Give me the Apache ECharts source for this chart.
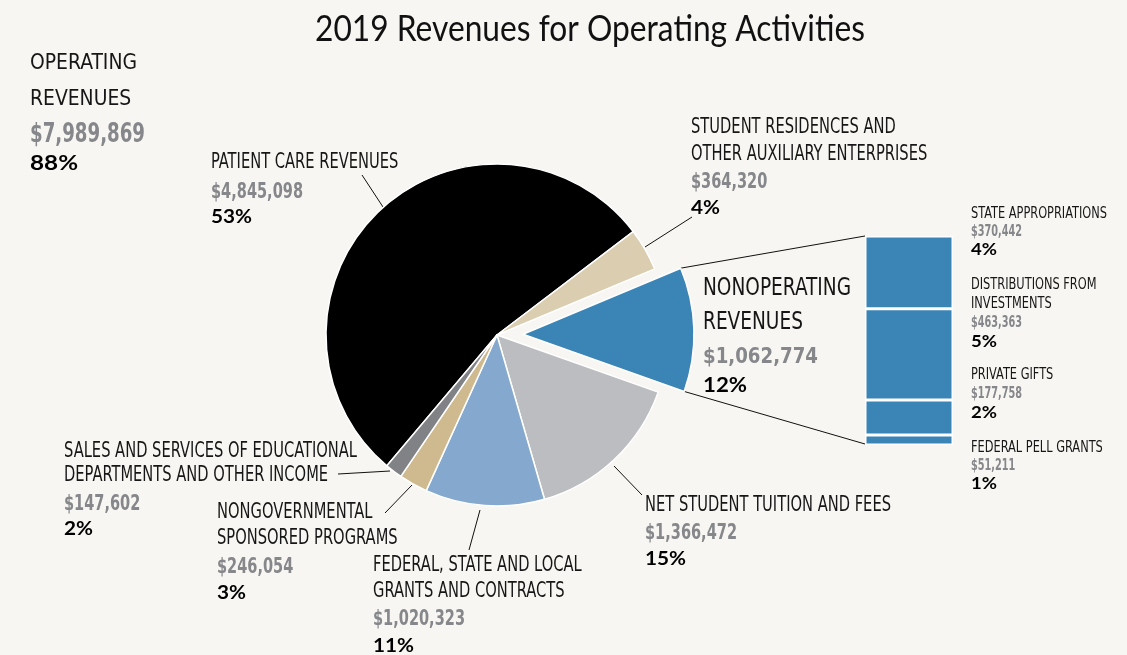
<!DOCTYPE html>
<html><head><meta charset="utf-8">
<script src="https://cdn.jsdelivr.net/npm/echarts@6/dist/echarts.min.js"></script>
<style>html,body{margin:0;padding:0;background:#f8f6f2;}#c{width:1127px;height:655px;}</style>
</head><body><div id="c"></div>
<script>
// ---------- data ----------
const chartTitle = '2019 Revenues for Operating Activities';
const sliceNames = ['Patient care revenues','Student residences and other auxiliary enterprises','Nonoperating revenues','Net student tuition and fees','Federal, state and local grants and contracts','Nongovernmental sponsored programs','Sales and services of educational departments and other income'];
const sliceLabelLines = [
  ['PATIENT CARE REVENUES'],
  ['STUDENT RESIDENCES AND','OTHER AUXILIARY ENTERPRISES'],
  ['NONOPERATING','REVENUES'],
  ['NET STUDENT TUITION AND FEES'],
  ['FEDERAL, STATE AND LOCAL','GRANTS AND CONTRACTS'],
  ['NONGOVERNMENTAL','SPONSORED PROGRAMS'],
  ['SALES AND SERVICES OF EDUCATIONAL','DEPARTMENTS AND OTHER INCOME']
];
const sliceValues = [4845098, 364320, 1062774, 1366472, 1020323, 246054, 147602];
const slicePercents = ['53%','4%','12%','15%','11%','3%','2%'];
const nonopIndex = 2;
const operatingLabelLines = ['OPERATING','REVENUES'];
const operatingPercent = '88%';
const nonopNames = ['State appropriations','Distributions from investments','Private gifts','Federal Pell grants'];
const nonopLabelLines = [['STATE APPROPRIATIONS'],['DISTRIBUTIONS FROM','INVESTMENTS'],['PRIVATE GIFTS'],['FEDERAL PELL GRANTS']];
const nonopValues = [370442, 463363, 177758, 51211];
const nonopPercents = ['4%','5%','2%','1%'];

// ---------- style ----------
const BG = '#f8f6f2';
const sliceColors = ['#000000','#dacdb0','#3b84b6','#bcbdc0','#85a9ce','#cfba8f','#808285'];
const barColor = '#3b84b6';
const FN = '"Liberation Sans Narrow","DejaVu Sans Condensed","Roboto Condensed","Arial Narrow",sans-serif';
const FP = 'Lato,"Open Sans",sans-serif';
const TXT = '#161616', GRAY = '#86878a';
const PIE_C = [497, 335], PIE_R = 171, START = 229.9, OFFSET = 26;
const BAR = {left: 865, top: 236, width: 88, height: 209};

const ctx = document.createElement('canvas').getContext('2d');
function measure(t, f){ ctx.font = f; return ctx.measureText(t).width; }
function mkStyle(weight, size, fam, ref, target, dy){
  const font = weight + ' ' + size + 'px ' + fam;
  return {font, sx: ref ? target / measure(ref, font) : 1, dy: dy || 0};
}
const ST = {
  main: mkStyle('normal', 20.5, FN, 'NET STUDENT TUITION AND FEES', 246, 2.5),
  mainVal: mkStyle('bold', 20.5, FN, '$4,845,098', 92, 2.5),
  mainPct: mkStyle('bold', 19.5, FP, '53%', 41, 1),
  small: mkStyle('normal', 15, FN, 'STATE APPROPRIATIONS', 136, 2),
  smallVal: mkStyle('bold', 15, FN, '$370,442', 51, 2),
  smallPct: mkStyle('bold', 17, FP, '4%', 26, 1),
  big: mkStyle('normal', 24.7, FN, 'NONOPERATING', 148, 3),
  bigVal: mkStyle('bold', 22, FN, '$1,062,774', 115, 2.5),
  bigPct: mkStyle('bold', 20, FP, '12%', 44, 1),
  op: mkStyle('normal', 22, FN, 'OPERATING', 107, 2.5),
  opVal: mkStyle('bold', 26, FN, '$7,989,869', 115, 3),
  opPct: mkStyle('bold', 21, FP, '88%', 48, 1)
};
const fmt = v => '$' + v.toLocaleString('en-US');

const graphics = [];
function txt(x, y, text, st, fill){
  graphics.push({type:'text', x, y: y + st.dy, scaleX: st.sx, silent:true,
    style:{text, font: st.font, fill, align:'left', verticalAlign:'middle'}});
}
function block(x, lineYs, lines, valY, value, pctY, pct, s){
  lines.forEach((l,i)=>txt(x, lineYs[i], l, ST[s], TXT));
  txt(x, valY, value, ST[s+'Val'], GRAY);
  txt(x, pctY, pct, ST[s+'Pct'], '#000');
}
function line(p1, p2){
  graphics.push({type:'line', silent:true, shape:{x1:p1[0],y1:p1[1],x2:p2[0],y2:p2[1]},
    style:{stroke:'#111', lineWidth:1}});
}

// label layout (positions)
const sliceLayout = [
  {x:211, ys:[160.5], v:190, p:216, s:'main'},
  {x:691, ys:[125.5,152.5], v:180, p:206.5, s:'main'},
  {x:703, ys:[286,320], v:355, p:385, s:'big'},
  {x:645, ys:[503.5], v:531, p:558, s:'main'},
  {x:373, ys:[563.5,589.5], v:617.5, p:644.5, s:'main'},
  {x:217, ys:[510.5,536.5], v:565, p:591.5, s:'main'},
  {x:64, ys:[449.5,473.5], v:502, p:528, s:'main'}
];
sliceLayout.forEach((L,i)=>block(L.x, L.ys, sliceLabelLines[i], L.v, fmt(sliceValues[i]), L.p, slicePercents[i], L.s));
const operatingTotal = sliceValues.reduce((a,b,i)=> i===nonopIndex ? a : a+b, 0);
block(30, [61,97], operatingLabelLines, 132, fmt(operatingTotal), 162, operatingPercent, 'op');

const nonopLayout = [
  {ys:[212.5], v:230.5, p:249},
  {ys:[283.5,302.5], v:321.5, p:340.5},
  {ys:[373.5], v:392.5, p:411.5},
  {ys:[446], v:464, p:483}
];
nonopLayout.forEach((L,i)=>block(971, L.ys, nonopLabelLines[i], L.v, fmt(nonopValues[i]), L.p, nonopPercents[i], 'small'));

// leader lines
line([362,175],[383,207]);
line([645,247],[692,217]);
line([614,466],[642,495]);
line([480,510],[469,550]);
line([412,485],[385,513]);
line([390,471],[338,474]);

// connector lines from exploded slice to the bar
const total = sliceValues.reduce((a,b)=>a+b,0);
const before = sliceValues.slice(0, nonopIndex).reduce((a,b)=>a+b,0);
const a0 = START - before/total*360;
const a1 = a0 - sliceValues[nonopIndex]/total*360;
const mid = (a0+a1)/2*Math.PI/180;
const rad = d => d*Math.PI/180;
const ox = PIE_C[0] + OFFSET*Math.cos(mid), oy = PIE_C[1] - OFFSET*Math.sin(mid);
line([ox + PIE_R*Math.cos(rad(a0)), oy - PIE_R*Math.sin(rad(a0))], [BAR.left, BAR.top]);
line([ox + PIE_R*Math.cos(rad(a1)), oy - PIE_R*Math.sin(rad(a1))], [BAR.left, BAR.top + BAR.height - 1]);

// title
const tFont = 'normal 36px Lato,"Open Sans",sans-serif';
const tsx = Math.min(1, 550 / measure(chartTitle, tFont));
graphics.push({type:'text', x:590, y:29, scaleX:tsx, silent:true,
  style:{text: chartTitle, font: tFont, fill:'#111', align:'center', verticalAlign:'middle'}});

const chart = echarts.init(document.getElementById('c'), null, {renderer:'canvas'});
chart.setOption({
  backgroundColor: BG,
  animation: false,
  grid: {left: BAR.left, top: BAR.top, width: BAR.width, height: BAR.height},
  xAxis: {type:'category', data:['Nonoperating revenues'], show:false},
  yAxis: {type:'value', min:0, max: nonopValues.reduce((a,b)=>a+b,0), inverse:true, show:false},
  series: [
    {
      type:'pie', center: PIE_C, radius: PIE_R, startAngle: START, clockwise: true,
      selectedMode:'single', selectedOffset: OFFSET, silent: true,
      label:{show:false}, labelLine:{show:false},
      itemStyle:{borderColor:'#ffffff', borderWidth:1.5},
      emphasis:{disabled:true},
      data: sliceValues.map((v,i)=>({name: sliceNames[i], value: v, selected: i===nonopIndex,
        itemStyle:{color: sliceColors[i]}, select:{itemStyle:{color: sliceColors[i]}}}))
    },
    ...nonopValues.map((v,i)=>({
      type:'bar', name: nonopNames[i], stack:'nonop', barWidth:'100%', silent:true,
      data:[v], itemStyle:{color: barColor, borderColor:'#ffffff', borderWidth:1.5},
      emphasis:{disabled:true}
    }))
  ],
  graphic: graphics
});
</script></body></html>
